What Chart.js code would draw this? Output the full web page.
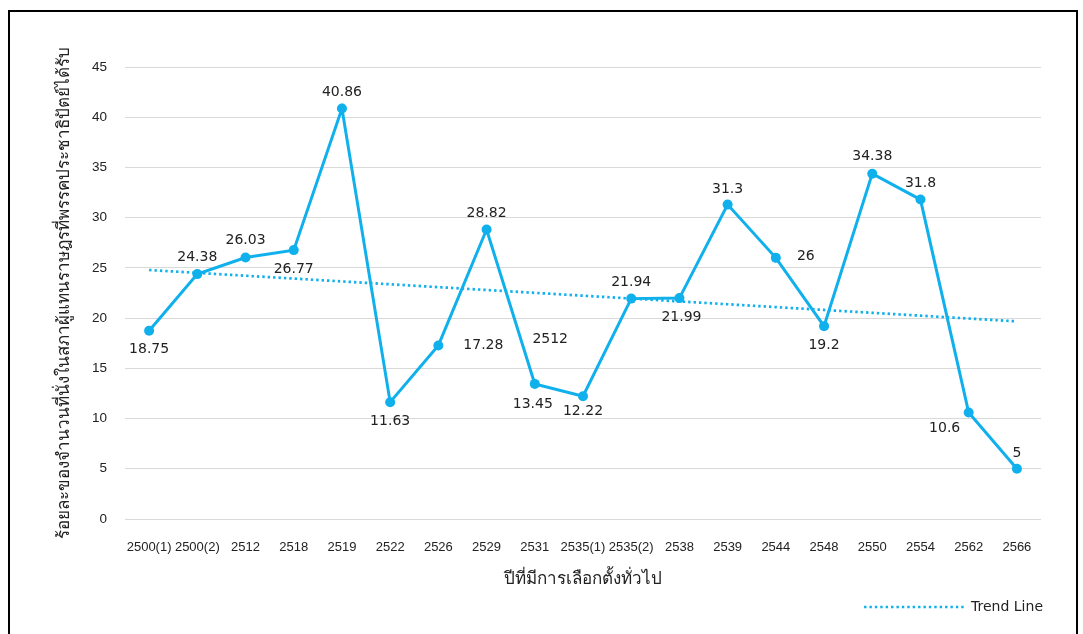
<!DOCTYPE html>
<html>
<head>
<meta charset="utf-8">
<script src="https://cdn.jsdelivr.net/npm/chart.js@4.4.1/dist/chart.umd.min.js"></script>
<style>
    html, body { margin: 0; padding: 0; background: #fff; }
    #wrap { position: relative; width: 1083px; height: 634px; overflow: hidden; }
    #frame {
        position: absolute; left: 8px; top: 10px; width: 1070px; height: 640px;
        border: 2px solid #000; pointer-events: none; box-sizing: border-box;
    }
    canvas { position: absolute; left: 0; top: 0; }
</style>
</head>
<body>
<div id="wrap">
    <canvas id="chart" width="1083" height="634"></canvas>
    <div id="frame"></div>
</div>
<script>
const years = ['2500(1)', '2500(2)', '2512', '2518', '2519', '2522', '2526', '2529', '2531',
    '2535(1)', '2535(2)', '2538', '2539', '2544', '2548', '2550', '2554', '2562', '2566'];
const seatShare = [18.75, 24.38, 26.03, 26.77, 40.86, 11.63, 17.28, 28.82, 13.45,
    12.22, 21.94, 21.99, 31.3, 26, 19.2, 34.38, 31.8, 10.6, 5];
const yTicks = [0, 5, 10, 15, 20, 25, 30, 35, 40, 45];

// where each value label sits relative to its point [dx, dy]
const labelOffsets = [
    [0, 19], [0, -17], [0, -17], [0, 19], [0, -16], [0, 19], [45, 0], [0, -16], [-2, 20],
    [0, 15], [0, -16], [2, 19], [0, -15], [30, -1], [0, 19], [0, -17], [0, -16], [-24, 16], [0, -15]
];

// least squares trend line through the series (like Excel's linear trendline)
function linearTrend(values) {
    const n = values.length;
    const mx = (n - 1) / 2;
    const my = values.reduce((a, b) => a + b, 0) / n;
    let sxy = 0, sxx = 0;
    values.forEach((v, i) => { sxy += (i - mx) * (v - my); sxx += (i - mx) * (i - mx); });
    const slope = sxy / sxx;
    return values.map((v, i) => my + slope * (i - mx));
}
const trend = linearTrend(seatShare);

const blue = '#0fb0ec';
const trendDash = [2.4, 3];
const numFont = '"Liberation Sans", Arial, sans-serif';
const labelFont = '"DejaVu Sans", Tahoma, sans-serif';

const valueLabels = {
    id: 'valueLabels',
    afterDatasetsDraw(chart) {
        const ctx = chart.ctx;
        const meta = chart.getDatasetMeta(0);
        ctx.save();
        ctx.font = '14px ' + labelFont;
        ctx.fillStyle = '#222';
        ctx.textAlign = 'center';
        ctx.textBaseline = 'middle';
        meta.data.forEach((pt, i) => {
            const off = labelOffsets[i];
            ctx.fillText(String(seatShare[i]), pt.x + off[0], pt.y + off[1]);
        });
        // stray label that sits in the original picture
        const xs = chart.scales.x, ys = chart.scales.y;
        const sx = xs.getPixelForValue(8) + (xs.getPixelForValue(9) - xs.getPixelForValue(8)) * 0.32;
        ctx.fillText('2512', sx, ys.getPixelForValue(17.9));
        ctx.restore();
    }
};

new Chart(document.getElementById('chart').getContext('2d'), {
    type: 'line',
    data: {
        labels: years,
        datasets: [{
            label: 'seats',
            data: seatShare,
            borderColor: blue,
            backgroundColor: blue,
            borderWidth: 3,
            pointRadius: 5,
            pointBackgroundColor: blue,
            pointBorderWidth: 0,
            tension: 0
        }, {
            label: 'Trend Line',
            data: trend,
            borderColor: blue,
            backgroundColor: blue,
            borderWidth: 2.7,
            borderDash: trendDash,
            pointRadius: 0,
            tension: 0
        }]
    },
    options: {
        responsive: false,
        animation: false,
        layout: { padding: { top: 67, right: 30, left: 0, bottom: 10 } },
        scales: {
            x: {
                offset: true,
                afterFit: scale => { scale.height = 71; },
                grid: { display: false },
                border: { display: false },
                ticks: { font: { family: numFont, size: 13 }, color: '#222', padding: 13, maxRotation: 0, autoSkip: false },
                title: {
                    display: true,
                    text: 'ปีที่มีการเลือกตั้งทั่วไป',
                    font: { family: labelFont, size: 17 },
                    color: '#222',
                    padding: { top: 12, bottom: 0 }
                }
            },
            y: {
                min: 0,
                max: 45,
                afterBuildTicks: scale => { scale.ticks = yTicks.map(v => ({ value: v })); },
                afterFit: scale => { scale.width = 125; },
                grid: { color: '#d9d9d9', lineWidth: 1, drawTicks: false },
                border: { display: false },
                ticks: { font: { family: numFont, size: 13.5 }, color: '#222', padding: 18 },
                title: {
                    display: true,
                    text: 'ร้อยละของจำนวนที่นั่งในสภาผู้แทนราษฎรที่พรรคประชาธิปัตย์ได้รับ',
                    font: { family: labelFont, size: 17 },
                    color: '#222',
                    padding: { top: 54, bottom: 0 }
                }
            },
            // empty strip on the right so the legend can reach further than the plot
            yRight: {
                position: 'right',
                afterFit: scale => { scale.width = 12; },
                grid: { display: false },
                border: { display: false },
                ticks: { display: false }
            }
        },
        plugins: {
            legend: {
                position: 'bottom',
                align: 'end',
                labels: {
                    filter: item => item.text === 'Trend Line',
                    usePointStyle: true,
                    pointStyle: 'line',
                    pointStyleWidth: 100,
                    font: { family: labelFont, size: 14 },
                    color: '#222',
                    padding: 10,
                    generateLabels: chart => {
                        const items = Chart.defaults.plugins.legend.labels.generateLabels(chart);
                        items.forEach(it => {
                            it.lineDash = trendDash;
                            it.lineWidth = 2.7;
                            it.strokeStyle = blue;
                        });
                        return items;
                    }
                }
            },
            tooltip: { enabled: false }
        }
    },
    plugins: [valueLabels]
});
</script>
</body>
</html>
